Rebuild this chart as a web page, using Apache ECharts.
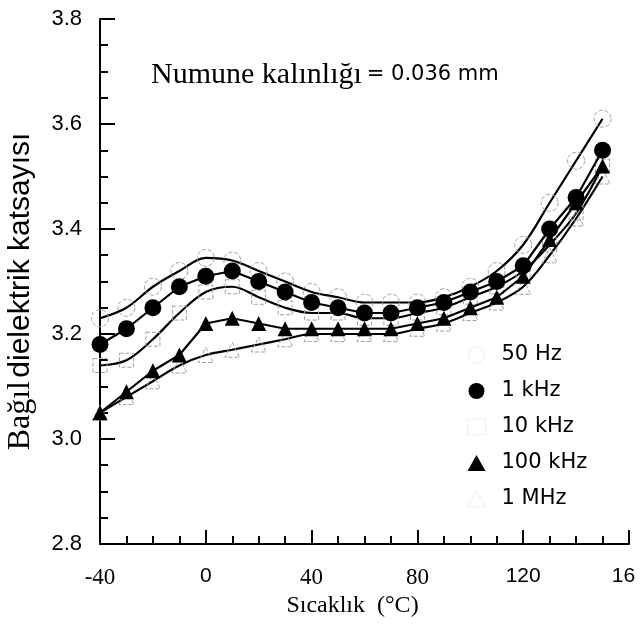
<!DOCTYPE html>
<html>
<head>
<meta charset="utf-8">
<script src="https://cdn.jsdelivr.net/npm/echarts@6/dist/echarts.min.js"></script>
<style>html,body{margin:0;padding:0;background:#fff;}#c{width:643px;height:624px;}</style>
</head>
<body>
<div id="c"></div>
<script>
// ---- data ----
var temps = [-40,-30,-20,-10,0,10,20,30,40,50,60,70,80,90,100,110,120,130,140,150];
var seriesNames = ['50 Hz','1 kHz','10 kHz','100 kHz','1 MHz'];
var hz50   = [3.23,3.25,3.29,3.32,3.345,3.34,3.32,3.30,3.28,3.27,3.26,3.26,3.26,3.27,3.29,3.32,3.37,3.45,3.53,3.61];
var khz1   = [3.18,3.21,3.25,3.29,3.31,3.32,3.30,3.28,3.26,3.25,3.24,3.24,3.25,3.26,3.28,3.30,3.33,3.40,3.46,3.55];
var khz10  = [3.14,3.15,3.19,3.24,3.28,3.29,3.27,3.25,3.24,3.24,3.23,3.23,3.24,3.25,3.27,3.29,3.32,3.37,3.43,3.52];
var khz100 = [3.05,3.09,3.13,3.16,3.22,3.23,3.22,3.21,3.21,3.21,3.21,3.21,3.22,3.23,3.25,3.27,3.31,3.38,3.45,3.52];
var mhz1   = [3.05,3.08,3.11,3.14,3.16,3.17,3.18,3.19,3.20,3.20,3.20,3.20,3.21,3.22,3.24,3.26,3.29,3.35,3.42,3.50];
var xTickValues = [-40,0,40,80,120,160];
var xTickLabels = ['-40','0','40','80','120','16'];
var yTickValues = [2.8,3.0,3.2,3.4,3.6,3.8];
var yTickLabels = ['2.8','3.0','3.2','3.4','3.6','3.8'];
var xTitle = 'Sıcaklık  (°C)';
var yTitleA = 'Bağıl';
var yTitleB = 'dielektrik katsayısı';
var noteA = 'Numune kalınlığı';
var noteB = '= 0.036 mm';

function pairs(ys){ return temps.map(function(t,i){ return [t, ys[i]]; }); }

var faint = {color:'rgba(0,0,0,0)', borderColor:'#a0a0a0', borderWidth:1, borderType:'dashed'};
var solid = {color:'#000', borderColor:'#000', borderWidth:0};
var faintLegend = {color:'rgba(0,0,0,0)', borderColor:'#dddddd', borderWidth:1, borderType:'dotted'};

var chart = echarts.init(document.getElementById('c'), null, {renderer:'canvas'});
chart.setOption({
  backgroundColor:'#fff',
  animation:false,
  grid:{left:100, right:14, top:19, bottom:80, containLabel:false, outerBoundsMode:'none'},
  title:{
    text:'{a|' + noteA + '} {b|' + noteB + '}',
    left:146, top:55,
    textStyle:{fontWeight:'normal', rich:{
      a:{fontFamily:'Liberation Serif', fontSize:30, fontWeight:'normal', color:'#000'},
      b:{fontFamily:'DejaVu Sans', fontSize:21, fontWeight:'normal', color:'#000'}
    }}
  },
  legend:{
    orient:'vertical', left:462, top:339,
    itemWidth:18, itemHeight:16, itemGap:14,
    textStyle:{fontFamily:'DejaVu Sans', fontSize:21, color:'#000', lineHeight:22, padding:[0,0,0,11]},
    data:[
      {name:seriesNames[0], icon:'circle', itemStyle:faintLegend},
      {name:seriesNames[1], icon:'circle'},
      {name:seriesNames[2], icon:'rect', itemStyle:faintLegend},
      {name:seriesNames[3], icon:'triangle'},
      {name:seriesNames[4], icon:'triangle', itemStyle:faintLegend}
    ]
  },
  xAxis:{
    type:'value', min:-40, max:160, interval:40,
    name:xTitle, nameLocation:'middle', nameGap:48,
    nameTextStyle:{fontFamily:'Liberation Serif', fontSize:24, color:'#000', padding:[0,24,0,0]},
    axisLine:{show:true, onZero:false, lineStyle:{color:'#000', width:2}},
    axisTick:{show:true, inside:true, length:14, lineStyle:{color:'#000', width:2}},
    minorTick:{show:true, splitNumber:4, length:8, lineStyle:{color:'#000', width:2}},
    splitLine:{show:false},
    axisLabel:{
      margin:22, color:'#000',
      formatter:function(v){
        var i = xTickValues.indexOf(v); var s = i>=0 ? xTickLabels[i] : '';
        if (v===-40 || v===40 || v===80) return '{r|' + s + '}';
        if (v===160) return '{e|' + s + '}';
        return '{s|' + s + '}';
      },
      rich:{
        r:{fontFamily:'Liberation Serif', fontSize:23, color:'#000'},
        s:{fontFamily:'Liberation Sans', fontSize:21, color:'#000'},
        e:{fontFamily:'Liberation Sans', fontSize:21, color:'#000', padding:[0,11,0,0]}
      }
    }
  },
  yAxis:{
    type:'value', min:2.8, max:3.8, interval:0.2,
    name:'{a|' + yTitleA + '} {b|' + yTitleB + '}', nameLocation:'middle', nameGap:63, nameRotate:90,
    nameTextStyle:{padding:[0,20,0,0], rich:{
      a:{fontFamily:'Liberation Serif', fontSize:32, color:'#000'},
      b:{fontFamily:'Liberation Sans', fontSize:30, color:'#000'}
    }},
    axisLine:{show:true, onZero:false, lineStyle:{color:'#000', width:2}},
    axisTick:{show:true, inside:true, length:15, lineStyle:{color:'#000', width:2}},
    minorTick:{show:true, splitNumber:4, length:8, lineStyle:{color:'#000', width:2}},
    splitLine:{show:false},
    axisLabel:{
      margin:18, color:'#000', fontFamily:'Liberation Sans', fontSize:22,
      formatter:function(v){
        for (var i=0;i<yTickValues.length;i++){ if (Math.abs(yTickValues[i]-v)<1e-6) return yTickLabels[i]; }
        return '';
      }
    }
  },
  series:[
    {name:seriesNames[0], type:'line', data:pairs(hz50), smooth:0.35,
     symbol:'circle', symbolSize:17, itemStyle:faint,
     lineStyle:{color:'#000', width:2.2}, z:2},
    {name:seriesNames[1], type:'line', data:pairs(khz1), smooth:false,
     symbol:'circle', symbolSize:17, itemStyle:solid,
     lineStyle:{color:'#000', width:2.2}, z:4},
    {name:seriesNames[2], type:'line', data:pairs(khz10), smooth:0.35,
     symbol:'rect', symbolSize:14, itemStyle:faint,
     lineStyle:{color:'#000', width:2.2}, z:2},
    {name:seriesNames[3], type:'line', data:pairs(khz100), smooth:false,
     symbol:'triangle', symbolSize:15, itemStyle:solid,
     lineStyle:{color:'#000', width:2.2}, z:4},
    {name:seriesNames[4], type:'line', data:pairs(mhz1), smooth:0.35,
     symbol:'triangle', symbolSize:15, itemStyle:faint,
     lineStyle:{color:'#000', width:2.2}, z:2}
  ]
});
</script>
</body>
</html>
